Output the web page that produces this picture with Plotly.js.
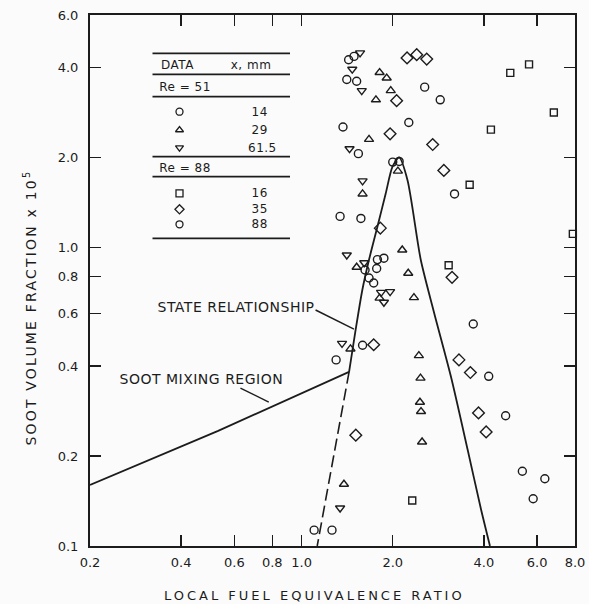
<!DOCTYPE html>
<html>
<head>
<meta charset="utf-8">
<script src="https://cdn.plot.ly/plotly-3.0.1.min.js"></script>
<style>
  html, body { margin: 0; padding: 0; background: #fbfbfb; }
  #chart { width: 589px; height: 604px; }
  g.annotation text { letter-spacing: 0.5px; }
  g.annotation[data-index="0"] text { letter-spacing: 3px; }
  g.annotation[data-index="1"] text { letter-spacing: 2.2px; }
</style>
</head>
<body>
<div id="chart"></div>
<script>
// ---------------- data ----------------
// Re = 51, x = 14 mm (open circles)
const re51x14Phi = [1.43, 1.49, 1.41, 1.52, 1.37, 1.54, 2.00, 2.10, 1.34, 1.57, 1.78, 1.87, 1.77, 1.62, 1.67, 1.73, 1.59, 1.30, 1.10, 1.26];
const re51x14Fv  = [4.25, 4.36, 3.65, 3.60, 2.53, 2.06, 1.93, 1.94, 1.27, 1.25, 0.91, 0.92, 0.85, 0.84, 0.79, 0.76, 0.47, 0.42, 0.113, 0.113];
// Re = 51, x = 29 mm (open triangles up)
const re51x29Phi = [1.81, 1.91, 1.97, 1.76, 1.67, 2.08, 1.59, 2.15, 1.52, 2.25, 1.81, 2.35, 1.45, 2.44, 2.47, 2.46, 2.48, 2.50, 1.38];
const re51x29Fv  = [3.85, 3.69, 3.35, 3.12, 2.30, 1.80, 1.51, 0.98, 0.858, 0.819, 0.676, 0.679, 0.457, 0.434, 0.365, 0.303, 0.282, 0.223, 0.161];
// Re = 51, x = 61.5 mm (open triangles down)
const re51x615Phi = [1.56, 1.47, 1.58, 1.44, 1.59, 1.41, 1.61, 1.83, 1.96, 1.87, 1.36, 1.34];
const re51x615Fv  = [4.48, 3.95, 3.35, 2.14, 1.67, 0.943, 0.888, 0.707, 0.711, 0.655, 0.477, 0.134];
// Re = 88, x = 16 mm (open squares)
const re88x16Phi = [4.89, 5.64, 6.81, 4.22, 3.59, 7.87, 3.06, 2.32];
const re88x16Fv  = [3.84, 4.10, 2.83, 2.48, 1.62, 1.11, 0.871, 0.142];
// Re = 88, x = 35 mm (open diamonds)
const re88x35Phi = [2.23, 2.40, 2.59, 2.06, 1.96, 2.71, 2.95, 1.82, 3.14, 1.73, 3.31, 3.61, 3.84, 4.07, 1.51];
const re88x35Fv  = [4.31, 4.42, 4.27, 3.10, 2.40, 2.21, 1.81, 1.16, 0.794, 0.472, 0.42, 0.381, 0.279, 0.241, 0.235];
// Re = 88, x = 88 mm (open circles)
const re88x88Phi = [2.55, 2.87, 2.26, 3.20, 3.69, 4.15, 4.72, 5.36, 6.36, 5.82];
const re88x88Fv  = [3.44, 3.12, 2.62, 1.51, 0.554, 0.37, 0.273, 0.178, 0.168, 0.144];

// soot mixing region line
const mixPhi = [0.2, 0.53, 1.435];
const mixFv  = [0.16, 0.243, 0.383];
// state relationship (solid)
const statePhi = [1.435, 1.508, 1.587, 1.669, 1.78, 1.896, 1.995, 2.1, 2.238, 2.476, 2.742, 3.112, 3.536, 3.912, 4.19];
const stateFv  = [0.383, 0.529, 0.72, 0.907, 1.172, 1.515, 1.859, 2.0, 1.678, 0.907, 0.602, 0.37, 0.21, 0.133, 0.1];
// state relationship (dashed extension)
const dashPhi = [1.435, 1.126];
const dashFv  = [0.383, 0.1];
// label leader lines
const stateLeaderPhi = [1.112, 1.489];
const stateLeaderFv  = [0.617, 0.532];
const mixLeaderPhi = [0.628, 0.779];
const mixLeaderFv  = [0.338, 0.303];

// ticks
const xTickVals = [0.2, 0.4, 0.6, 0.8, 1, 2, 4, 6, 8];
const xTickText = ['0.2', '0.4', '0.6', '0.8', '1.0', '2.0', '4.0', '6.0', '8.0'];
const yTickVals = [0.1, 0.2, 0.4, 0.6, 0.8, 1, 2, 4, 6];
const yTickText = ['0.1', '0.2', '0.4', '0.6', '0.8', '1.0', '2.0', '4.0', '6.0'];

// legend table contents
const tableSymbols = ['circle-open', 'triangle-up-open', 'triangle-down-open', 'square-open', 'diamond-open', 'circle-open'];
const tableXmm = ['14', '29', '61.5', '16', '35', '88'];

// ---------------- layout helpers ----------------
const W = 589, H = 604;
const M = {l: 90, r: 14, t: 15, b: 58};
const PL = M.l, PR = W - M.r, PT = M.t, PB = H - M.b;
const fx = px => (px - PL) / (PR - PL);
const fy = py => (PB - py) / (PB - PT);

const INK = '#1c1c1c';
const FONT = 'DejaVu Sans';
const lw = 1.4;

function pts(name, x, y, symbol, size) {
  return {
    type: 'scatter', mode: 'markers', name: name, x: x, y: y,
    cliponaxis: false,
    marker: {symbol: symbol, size: size, color: INK, line: {color: INK, width: lw}}
  };
}
function line(name, x, y, opts) {
  return Object.assign({
    type: 'scatter', mode: 'lines', name: name, x: x, y: y,
    line: {color: INK, width: 1.8}, hoverinfo: 'skip'
  }, opts || {});
}

const traces = [
  line('Soot mixing region', mixPhi, mixFv),
  line('State relationship', statePhi, stateFv, {line: {color: INK, width: 1.8, shape: 'spline', smoothing: 0.7}}),
  line('State relationship (extension)', dashPhi, dashFv, {line: {color: INK, width: 1.6, dash: '12px,5px'}}),
  line('leader 1', stateLeaderPhi, stateLeaderFv, {line: {color: INK, width: 1.4}}),
  line('leader 2', mixLeaderPhi, mixLeaderFv, {line: {color: INK, width: 1.4}}),
  pts('Re = 51, x = 14 mm', re51x14Phi, re51x14Fv, 'circle-open', 8),
  pts('Re = 51, x = 29 mm', re51x29Phi, re51x29Fv, 'triangle-up-open', 8),
  pts('Re = 51, x = 61.5 mm', re51x615Phi, re51x615Fv, 'triangle-down-open', 8),
  pts('Re = 88, x = 16 mm', re88x16Phi, re88x16Fv, 'square-open', 7),
  pts('Re = 88, x = 35 mm', re88x35Phi, re88x35Fv, 'diamond-open', 9),
  pts('Re = 88, x = 88 mm', re88x88Phi, re88x88Fv, 'circle-open', 8)
];

// legend table symbols on an overlay axis (paper-like 0..1)
const symRowsPx = [111.7, 130, 147.7, 193.3, 209.3, 224.3];
traces.push({
  type: 'scatter', mode: 'markers', xaxis: 'x2', yaxis: 'y2', name: 'table symbols',
  x: symRowsPx.map(() => fx(179.5)), y: symRowsPx.map(fy),
  marker: {symbol: tableSymbols, size: 7, color: INK, line: {color: INK, width: 1.3}},
  hoverinfo: 'skip'
});

// table lines
const tableLinesPx = [53.3, 74.3, 96.7, 156.7, 176.7, 238.3];
const shapes = tableLinesPx.map(py => ({
  type: 'line', xref: 'paper', yref: 'paper',
  x0: fx(152.5), x1: fx(290), y0: fy(py), y1: fy(py),
  line: {color: INK, width: 1.8}
}));
// longer major ticks at 1.0
shapes.push({type: 'line', xref: 'paper', yref: 'y', x0: 0, x1: fx(109), y0: 0, y1: 0, line: {color: INK, width: 1.5}});
shapes.push({type: 'line', xref: 'x', yref: 'paper', x0: 0, x1: 0, y0: 0, y1: fy(PB - 19), line: {color: INK, width: 1.5}});

function txt(text, xp, yp, anchor, size, extra) {
  return Object.assign({
    text: text, xref: 'paper', yref: 'paper', x: fx(xp), y: fy(yp),
    xanchor: anchor || 'left', yanchor: 'middle', showarrow: false,
    font: {family: FONT, size: size || 12, color: INK}
  }, extra || {});
}

const annotations = [
  // axis titles (index 0, 1)
  txt('LOCAL FUEL EQUIVALENCE RATIO', 314, 595, 'center', 13),
  txt('SOOT VOLUME FRACTION x 10<sup>5</sup>', 30, 308, 'center', 14, {textangle: -90}),
  // curve labels
  {text: 'STATE RELATIONSHIP', xref: 'x', yref: 'y', x: Math.log10(1.085), y: Math.log10(0.632),
   xanchor: 'right', yanchor: 'middle', showarrow: false, font: {family: FONT, size: 14, color: INK}},
  {text: 'SOOT MIXING REGION', xref: 'x', yref: 'y', x: Math.log10(0.255), y: Math.log10(0.363),
   xanchor: 'left', yanchor: 'middle', showarrow: false, font: {family: FONT, size: 14, color: INK}},
  // table text
  txt('DATA', 160, 65),
  txt('x, mm', 230, 65),
  txt('Re = 51', 159, 86.7),
  txt('Re = 88', 159, 167.7)
];
const numRowsPx = [111.7, 130, 147.7, 193.3, 209.3, 224.3];
tableXmm.forEach((t, i) => annotations.push(txt(t, t.length > 2 ? 246.5 : 249.5, numRowsPx[i])));

const axisCommon = {
  type: 'log', showgrid: false, zeroline: false,
  showline: true, linewidth: 2, linecolor: INK, mirror: 'ticks',
  ticks: 'inside', ticklen: 11, tickwidth: 1.5, tickcolor: INK,
  tickfont: {family: FONT, size: 13, color: INK}
};

const layout = {
  width: W, height: H, margin: M,
  paper_bgcolor: '#fbfbfb', plot_bgcolor: '#fbfbfb',
  showlegend: false, hovermode: false,
  xaxis: Object.assign({}, axisCommon, {range: [Math.log10(0.2), Math.log10(8)], tickvals: xTickVals, ticktext: xTickText, ticklabelstandoff: 3}),
  yaxis: Object.assign({}, axisCommon, {range: [-1, Math.log10(6)], tickvals: yTickVals, ticktext: yTickText, ticklabelstandoff: 7}),
  xaxis2: {overlaying: 'x', anchor: 'y2', range: [0, 1], visible: false},
  yaxis2: {overlaying: 'y', anchor: 'x2', range: [0, 1], visible: false},
  shapes: shapes,
  annotations: annotations
};

Plotly.newPlot('chart', traces, layout, {staticPlot: true, displayModeBar: false});
</script>
</body>
</html>
